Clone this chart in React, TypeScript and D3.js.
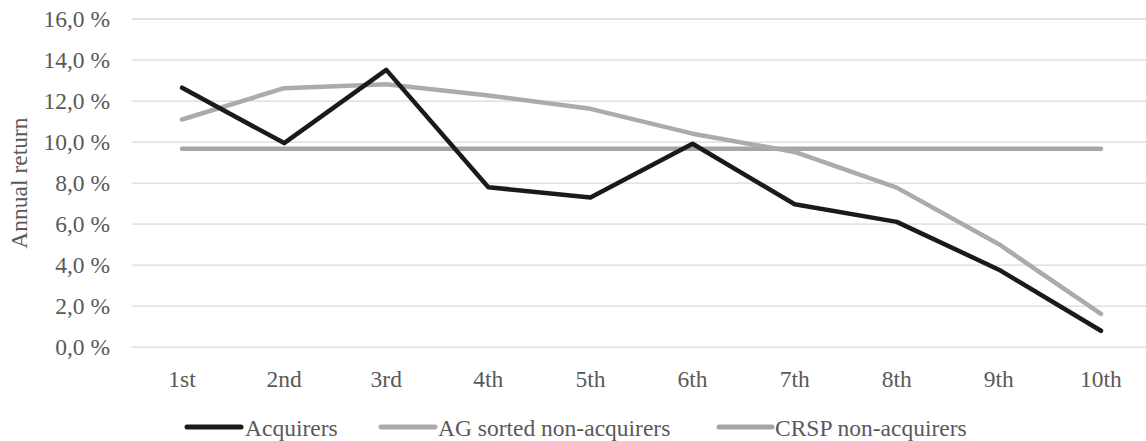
import React from "react";
import * as d3 from "d3";

const categories = ["1st", "2nd", "3rd", "4th", "5th", "6th", "7th", "8th", "9th", "10th"];
const acquirers = [12.65, 9.95, 13.52, 7.8, 7.3, 9.92, 6.97, 6.11, 3.78, 0.8];
const agSorted = [11.1, 12.63, 12.82, 12.27, 11.62, 10.41, 9.52, 7.78, 5.02, 1.62];
const crsp = [9.68, 9.68, 9.68, 9.68, 9.68, 9.68, 9.68, 9.68, 9.68, 9.68];
const yTicks = [0, 2, 4, 6, 8, 10, 12, 14, 16];

const series = [
  { name: "Acquirers", values: acquirers, color: "#1a1a1a" },
  { name: "AG sorted non-acquirers", values: agSorted, color: "#aeaaaa" },
  { name: "CRSP non-acquirers", values: crsp, color: "#a5a5a5" },
];

const W = 1146, H = 441;
const gridLeft = 132, gridRight = 1146, top = 19, bottom = 347.2;
const font = "'Liberation Serif', 'Times New Roman', 'DejaVu Serif', serif";
const textColor = "#595959";
const fs = 23.5;

export default function App() {
  const x = d3.scaleBand().domain(categories).range([131, 1152]);
  const y = d3.scaleLinear().domain([0, 16]).range([bottom, top]);
  const line = d3.line<number>()
    .x((_, i) => (x(categories[i]) as number) + x.bandwidth() / 2)
    .y((d) => y(d));
  const legendItems = [
    { lx: 187, lx2: 241, tx: 245 },
    { lx: 381, lx2: 435, tx: 438 },
    { lx: 719, lx2: 772, tx: 775 },
  ];
  const ts = { fontFamily: font, fontSize: fs, fill: textColor } as React.CSSProperties;
  return (
    <svg width={W} height={H} style={{ position: "absolute", left: 0, top: 0 }}>
      <rect width={W} height={H} fill="#ffffff" />
      {yTicks.map((t) => (
        <g key={t}>
          <line x1={gridLeft} x2={gridRight} y1={y(t)} y2={y(t)} stroke="#d9d9d9" strokeWidth={1.3} />
          <text x={110} y={y(t)} dy="0.35em" textAnchor="end" style={ts}>
            {t.toFixed(1).replace(".", ",") + " %"}
          </text>
        </g>
      ))}
      {categories.map((c) => (
        <text key={c} x={(x(c) as number) + x.bandwidth() / 2} y={378.5} dy="0.35em" textAnchor="middle" style={ts}>
          {c}
        </text>
      ))}
      <text transform={`translate(19,${(top + bottom) / 2}) rotate(-90)`} textAnchor="middle" dy="0.35em" style={ts}>
        Annual return
      </text>
      {[series[2], series[1], series[0]].map((s) => (
        <path key={s.name} d={line(s.values) || ""} fill="none" stroke={s.color} strokeWidth={4.5} strokeLinecap="round" strokeLinejoin="round" />
      ))}
      {series.map((s, i) => (
        <g key={s.name}>
          <line x1={legendItems[i].lx} x2={legendItems[i].lx2} y1={427} y2={427} stroke={s.color} strokeWidth={5} strokeLinecap="round" />
          <text x={legendItems[i].tx} y={428} dy="0.35em" style={ts}>
            {s.name}
          </text>
        </g>
      ))}
    </svg>
  );
}
